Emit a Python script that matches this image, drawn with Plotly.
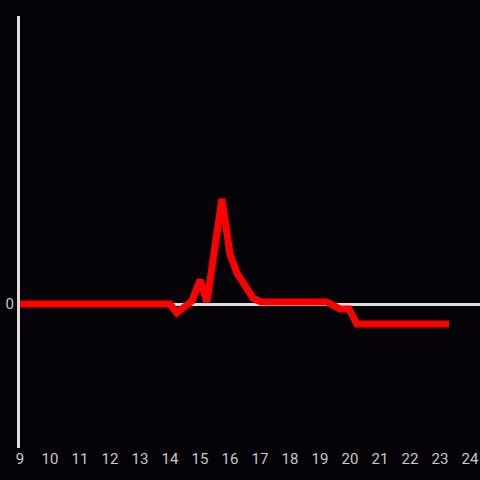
import plotly.graph_objects as go

# hour of day and relative change
hours = [9, 14.0, 14.23, 14.73, 15.0, 15.23, 15.73, 16.0, 16.23, 16.77, 17.03,
         19.23, 19.67, 19.97, 20.23, 23.3]
values = [0, 0, -0.062, 0.02, 0.167, 0.014, 0.73, 0.347, 0.215, 0.04, 0.014,
          0.014, -0.035, -0.035, -0.139, -0.139]
x_ticks = list(range(9, 25))

fig = go.Figure()

fig.add_trace(go.Scatter(
    x=hours,
    y=values,
    mode="lines",
    line=dict(color="#ff0000", width=7),
    hoverinfo="skip"
))

fig.update_layout(
    width=480,
    height=480,
    paper_bgcolor="#050307",
    plot_bgcolor="#050307",
    margin=dict(l=20, r=0, t=16, b=32),
    showlegend=False,
    font=dict(family="Roboto", size=15, color="#c8c8c8"),
    xaxis=dict(
        range=[9, 24.333],
        tickvals=x_ticks,
        showgrid=False,
        zeroline=False,
        showline=False,
        ticks="",
    ),
    yaxis=dict(
        range=[-1, 2],
        tickvals=[0],
        showgrid=False,
        zeroline=True,
        zerolinecolor="#dddddd",
        zerolinewidth=3,
        showline=True,
        linecolor="#dddddd",
        linewidth=3,
        ticks="",
    ),
)

# drop the page margin so the chart sits at the window edge
fig.write_html(
    "out.html",
    config={"displayModeBar": False},
    post_script="document.body.style.margin='0';document.body.style.overflow='hidden';",
)
